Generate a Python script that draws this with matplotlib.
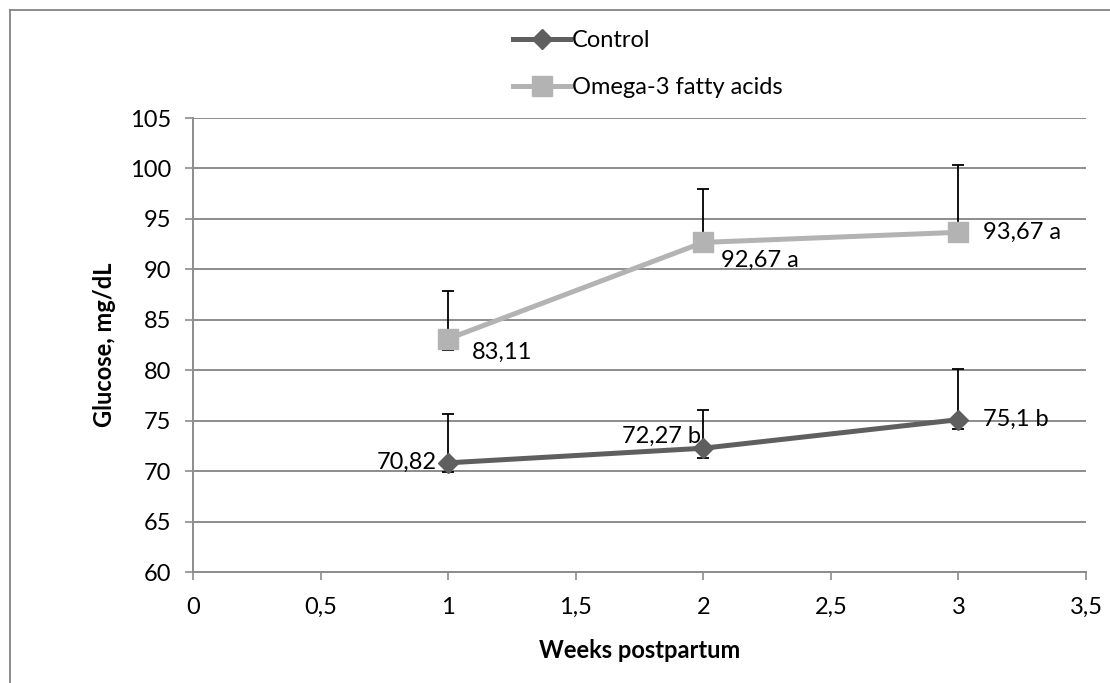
import matplotlib
matplotlib.use("Agg")
import matplotlib.pyplot as plt
from matplotlib.lines import Line2D
from matplotlib.ticker import FuncFormatter, MultipleLocator

plt.rcParams['font.family'] = ['Lato', 'DejaVu Sans']

weeks = [1, 2, 3]
control = [70.82, 72.27, 75.1]
omega = [83.11, 92.67, 93.67]
control_err_plus = [4.84, 3.79, 4.99]
control_err_minus = [0.87, 0.94, 0.95]
omega_err_plus = [4.74, 5.29, 6.67]
omega_err_minus = [1.10, 0.92, 0.93]
control_labels = ["70,82", "72,27 b", "75,1 b"]
omega_labels = ["83,11", "92,67 a", "93,67 a"]
series_names = ["Control", "Omega-3 fatty acids"]

c_dark = "#5f5f5f"
c_light = "#b3b3b3"
grid_c = "#8c8c8c"
FS = 17

fig = plt.figure(figsize=(11.10, 6.83), dpi=100)
ax = fig.add_axes([193/1110, 1-572/683, (1086-193)/1110, (572-118)/683])

# error bars (below markers)
ax.errorbar(weeks, control, yerr=[control_err_minus, control_err_plus], fmt='none',
            ecolor='black', elinewidth=1.3, capsize=4.5, capthick=1.3, zorder=3)
ax.errorbar(weeks, omega, yerr=[omega_err_minus, omega_err_plus], fmt='none',
            ecolor='black', elinewidth=1.3, capsize=4.5, capthick=1.3, zorder=3)

ax.plot(weeks, control, color=c_dark, lw=3.6, marker='D', markersize=10.5,
        markerfacecolor=c_dark, markeredgecolor=c_dark, zorder=4)
ax.plot(weeks, omega, color=c_light, lw=3.6, marker='s', markersize=14,
        markerfacecolor=c_light, markeredgecolor=c_light, zorder=4)

ax.set_xlim(0, 3.5)
ax.set_ylim(60, 105)
ax.xaxis.set_major_locator(MultipleLocator(0.5))
ax.yaxis.set_major_locator(MultipleLocator(5))

def comma_fmt(v, pos):
    return ("%g" % v).replace('.', ',')
ax.xaxis.set_major_formatter(FuncFormatter(comma_fmt))
ax.yaxis.set_major_formatter(FuncFormatter(comma_fmt))

ax.grid(axis='y', color=grid_c, lw=1.4, zorder=0)
ax.set_axisbelow(True)
for s in ['top', 'right']:
    ax.spines[s].set_visible(False)
for s in ['left', 'bottom']:
    ax.spines[s].set_color(grid_c)
    ax.spines[s].set_linewidth(1.4)
ax.tick_params(axis='both', colors=grid_c, length=6, width=1.2, labelcolor='black',
               labelsize=FS)
ax.tick_params(axis='y', pad=10)
ax.tick_params(axis='x', pad=12)

ax.set_xlabel("Weeks postpartum", fontsize=FS, fontweight='bold', labelpad=15)
ax.set_ylabel("Glucose, mg/dL", fontsize=FS, fontweight='bold', labelpad=10)

# data labels
ax.annotate(omega_labels[0], (weeks[0], omega[0]), xytext=(17, -10), textcoords='offset points',
            ha='left', va='center', fontsize=FS, zorder=5)
ax.annotate(omega_labels[1], (weeks[1], omega[1]), xytext=(13, -13), textcoords='offset points',
            ha='left', va='center', fontsize=FS, zorder=5)
ax.annotate(omega_labels[2], (weeks[2], omega[2]), xytext=(18, 0), textcoords='offset points',
            ha='left', va='center', fontsize=FS, zorder=5)
ax.annotate(control_labels[0], (weeks[0], control[0]), xytext=(-8, 0), textcoords='offset points',
            ha='right', va='center', fontsize=FS, zorder=5)
ax.annotate(control_labels[1], (weeks[1], control[1]), xytext=(-2, 8.5), textcoords='offset points',
            ha='right', va='center', fontsize=FS, zorder=5)
ax.annotate(control_labels[2], (weeks[2], control[2]), xytext=(18, 0), textcoords='offset points',
            ha='left', va='center', fontsize=FS, zorder=5)

# legend
handles = [
    Line2D([0], [0], color=c_dark, lw=3.6, marker='D', markersize=10.5,
           markerfacecolor=c_dark, markeredgecolor=c_dark),
    Line2D([0], [0], color=c_light, lw=3.6, marker='s', markersize=14,
           markerfacecolor=c_light, markeredgecolor=c_light),
]
fig.legend(handles, series_names, loc='center', bbox_to_anchor=(648/1110, 1-64/683),
           frameon=False, fontsize=FS, handlelength=2.4, handletextpad=0.1,
           labelspacing=1.1, borderpad=0)

# outer border (top and left visible)
fig.add_artist(Line2D([10/1110, 1.0], [1-10/683, 1-10/683], transform=fig.transFigure,
                      color='#8c8c8c', lw=1.4))
fig.add_artist(Line2D([10/1110, 10/1110], [0, 1-10/683], transform=fig.transFigure,
                      color='#8c8c8c', lw=1.4))

fig.savefig("out.png", dpi=100)
